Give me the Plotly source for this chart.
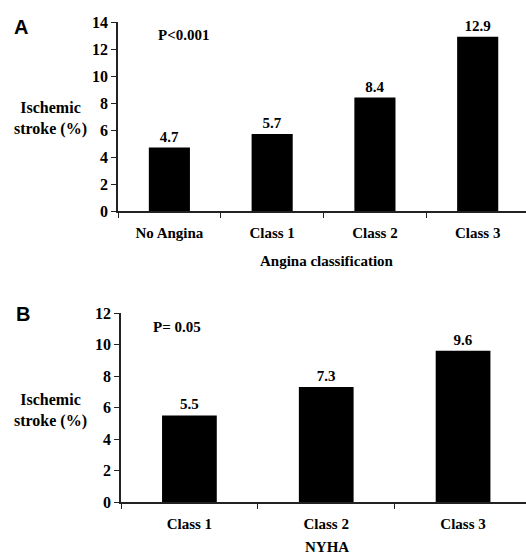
import plotly.graph_objects as go

# ---- data ----
angina_cats = ["No Angina", "Class 1", "Class 2", "Class 3"]
angina_vals = [4.7, 5.7, 8.4, 12.9]
nyha_cats = ["Class 1", "Class 2", "Class 3"]
nyha_vals = [5.5, 7.3, 9.6]
yticks_a = [0, 2, 4, 6, 8, 10, 12, 14]
yticks_b = [0, 2, 4, 6, 8, 10, 12]

W, H = 526, 556


def px(x):
    return x / W


def py(y):
    return 1 - y / H


SERIF = "Liberation Serif, Times New Roman, serif"
SANS = "Liberation Sans, Arial, sans-serif"
LBL = dict(family=SERIF, size=15, color="black", weight="bold")
YTK = dict(family=SERIF, size=16, color="black", weight="bold")
YTL = dict(family=SERIF, size=16, color="black", weight="bold")
AXC = "#222222"

fig = go.Figure()
fig.add_bar(x=angina_cats, y=angina_vals, xaxis="x", yaxis="y",
            marker=dict(color="black", line=dict(width=0)), width=0.4,
            text=[f"{v:.1f}" for v in angina_vals], textposition="outside",
            textfont=LBL, cliponaxis=False, showlegend=False)
fig.add_bar(x=nyha_cats, y=nyha_vals, xaxis="x2", yaxis="y2",
            marker=dict(color="black", line=dict(width=0)), width=0.4,
            text=[f"{v:.1f}" for v in nyha_vals], textposition="outside",
            textfont=LBL, cliponaxis=False, showlegend=False)

xcommon = dict(type="category", showline=True, linecolor=AXC, linewidth=1.5,
               ticks="outside", tickson="boundaries", ticklen=5, tickcolor=AXC,
               tickwidth=1, tickfont=LBL, showgrid=False, zeroline=False,
               ticklabelstandoff=7, fixedrange=True, automargin=False)
ycommon = dict(showline=True, linecolor=AXC, linewidth=1.5, ticks="outside",
               ticklen=5, tickcolor=AXC, tickwidth=1, tickfont=YTK,
               showgrid=False, zeroline=False, fixedrange=True, automargin=False)

fig.update_layout(
    width=W, height=H, margin=dict(l=0, r=0, t=0, b=0, autoexpand=False),
    paper_bgcolor="white", plot_bgcolor="white", bargap=0.6,
    xaxis=dict(xcommon, domain=[px(118), 1], range=[-0.5, 3.47], anchor="y"),
    yaxis=dict(ycommon, domain=[py(211), py(22)], range=[0, 14],
               tickvals=yticks_a, anchor="x"),
    xaxis2=dict(xcommon, domain=[px(121), 1], range=[-0.5, 2.46], anchor="y2"),
    yaxis2=dict(ycommon, domain=[py(502), py(313)], range=[0, 12],
                tickvals=yticks_b, anchor="x2"),
)

ann = [
    dict(text="A", x=px(21), y=py(27), font=dict(family=SANS, size=20, color="black", weight="bold")),
    dict(text="P<0.001", x=px(183), y=py(35), font=LBL),
    dict(text="Ischemic<br>stroke (%)", x=px(50), y=py(118), font=YTL),
    dict(text="Angina classification", x=px(327), y=py(261), font=LBL),
    dict(text="B", x=px(23), y=py(314), font=dict(family=SANS, size=20, color="black", weight="bold")),
    dict(text="P= 0.05", x=px(177), y=py(327), font=LBL),
    dict(text="Ischemic<br>stroke (%)", x=px(50), y=py(410), font=YTL),
    dict(text="NYHA", x=px(327), y=py(547), font=LBL),
]
for a in ann:
    fig.add_annotation(xref="paper", yref="paper", showarrow=False,
                       xanchor="center", yanchor="middle", **a)

fig.write_html("out.html", config={"displayModeBar": False},
               post_script="document.body.style.margin='0';document.body.style.overflow='hidden';")
